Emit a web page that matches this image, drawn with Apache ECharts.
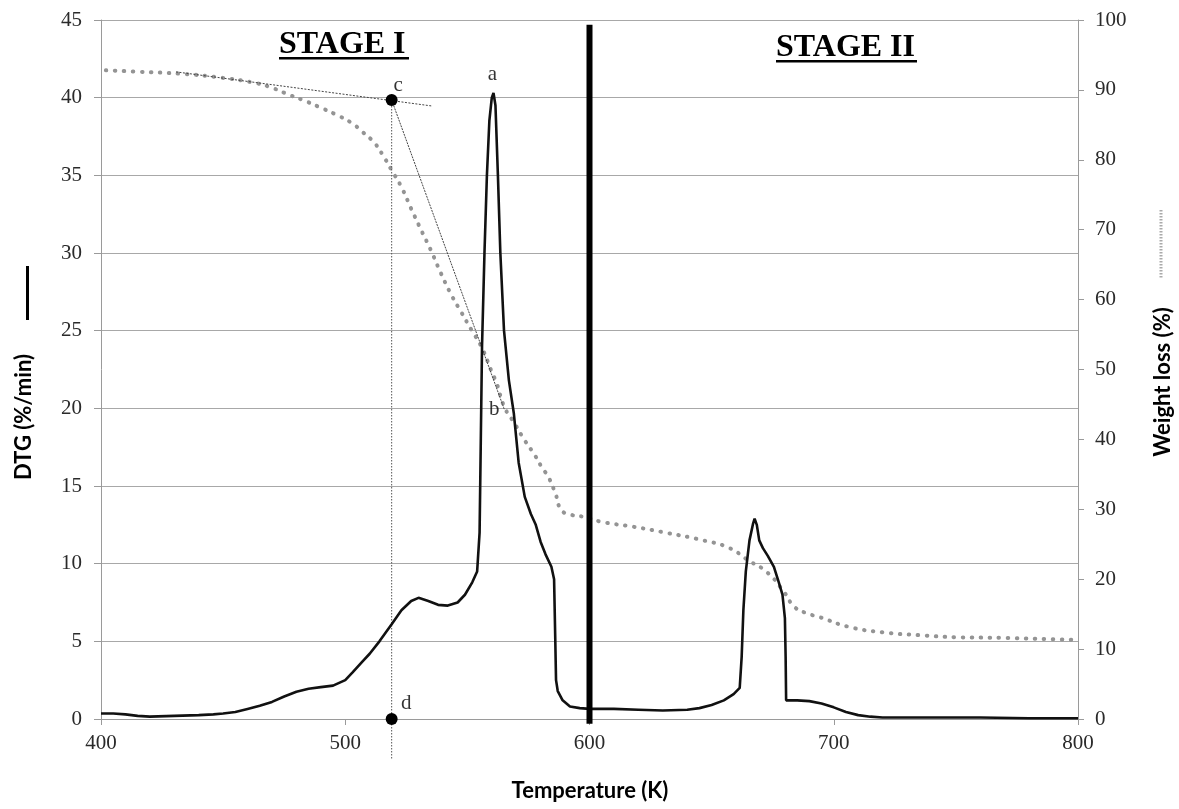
<!DOCTYPE html>
<html>
<head>
<meta charset="utf-8">
<script src="https://cdn.jsdelivr.net/npm/echarts@6/dist/echarts.min.js"></script>
<style>html,body{margin:0;padding:0;background:#fff;}#c{width:1179px;height:809px;}</style>
</head>
<body>
<div id="c"></div>
<script>
// ---- Data ----
const xTicks = [400, 500, 600, 700, 800];
const dtgTicks = [0, 5, 10, 15, 20, 25, 30, 35, 40, 45];
const wlTicks = [0, 10, 20, 30, 40, 50, 60, 70, 80, 90, 100];

// DTG curve (Temperature K, %/min)
const dtgT = [400,405,410,415,420,430,440,446,450,455,460,465,470,475,480,485,490,495,500,503,507,510,514,519,523,527,530,534,538,542,546,549,552,554,555,555.5,556,557,558,559,560,560.7,561.5,562.5,563.5,565,567,569,571,573.5,576,578,580,582,584.4,585.5,586,586.3,587,589,592,596,600,610,620,630,640,645,650,655,659,661.5,662.3,663,664,665.5,667,667.6,668.5,669.5,671,673,675.5,677.5,679,680,680.3,680.5,685,690,695,700,705,710,715,720,740,760,780,800];
const dtgV = [0.35,0.35,0.3,0.2,0.15,0.2,0.25,0.3,0.35,0.45,0.65,0.85,1.1,1.45,1.75,1.95,2.05,2.15,2.5,3.0,3.7,4.2,5.0,6.1,7.0,7.6,7.8,7.6,7.35,7.3,7.5,8.0,8.8,9.5,12,18,24,30,35,38.5,40.0,40.3,39.5,35,30,25,21.8,19.7,16.5,14.3,13.2,12.5,11.4,10.6,9.8,9.0,5.0,2.5,1.8,1.2,0.8,0.7,0.65,0.65,0.6,0.55,0.6,0.7,0.9,1.2,1.6,2.0,4,7,9.5,11.5,12.6,12.9,12.5,11.5,11.0,10.5,9.8,8.8,8.0,6.5,4,1.2,1.2,1.15,1.0,0.75,0.45,0.25,0.15,0.1,0.1,0.1,0.05,0.05];

// Weight loss curve (Temperature K, %)
const wlT = [402,415,433,448,463,470,477,483,489,496,502.5,507,512,515.5,519,523,527,531,535,539,543.4,547.5,551.6,555.7,559.8,562,565.2,569.3,573.4,577.5,580.5,583.2,586,588.5,592.6,598,605,618,632,646,657,665,673,680,684,690,694,706,720,735,750,770,800];
const wlV = [92.8,92.6,92.3,91.8,91.0,90.3,89.3,88.5,87.6,86.5,85.3,84.0,82.4,80.6,78.5,76.1,73.0,70.0,67.1,63.9,60.7,58.2,55.7,53.3,49.8,48,44.6,42.3,39.9,37.8,36,34.6,32.3,29.9,29.2,28.9,28.2,27.5,26.6,25.6,24.5,22.7,20.9,18.0,16.0,15.0,14.6,13.2,12.4,12.0,11.7,11.6,11.3];

// Construction lines (DTG units)
const tangent1 = [[430.7, 41.66], [535.2, 39.47]];
const tangent2 = [[519, 39.85], [565.2, 19.9]];
const verticalCD = [[519, 39.85], [519, -2.6]];
const stageDivider = [[600, -0.3], [600, 44.7]];

// Marker points c, d
const markerPts = [[519, 39.85], [519, 0]];
// Annotation letters
const annoText = ['a', 'b', 'c', 'd'];
const annoT = [560.2, 561, 521.7, 525];
const annoV = [41.5, 19.9, 40.8, 1.0];

const stageLabels = ['STAGE I', 'STAGE II'];
const axisTitles = { x: 'Temperature (K)', yl: 'DTG (%/min)', yr: 'Weight loss (%)' };

// ---- Chart ----
const chart = echarts.init(document.getElementById('c'));
const pair = (xs, ys) => xs.map((x, i) => [x, ys[i]]);
const tickFont = { fontFamily: 'Liberation Serif', fontSize: 21, color: '#2a2a2a' };
const axisGray = '#9a9a9a';

chart.setOption({
  animation: false,
  backgroundColor: '#fff',
  grid: { left: 101, right: 101, top: 20, bottom: 90 },
  xAxis: {
    type: 'value', min: 400, max: 800, interval: 100,
    axisLine: { show: true, lineStyle: { color: axisGray, width: 1 } },
    axisTick: { show: true, length: 6, lineStyle: { color: axisGray } },
    axisLabel: Object.assign({ margin: 14 }, tickFont),
    splitLine: { show: false }
  },
  yAxis: [
    {
      type: 'value', min: 0, max: 45, interval: 5,
      axisLine: { show: true, lineStyle: { color: axisGray, width: 1 } },
      axisTick: { show: true, length: 7, lineStyle: { color: axisGray } },
      axisLabel: Object.assign({ margin: 19 }, tickFont),
      splitLine: { show: true, lineStyle: { color: '#a8a8a8', width: 1.2 } }
    },
    {
      type: 'value', min: 0, max: 100, interval: 10, position: 'right',
      axisLine: { show: true, lineStyle: { color: axisGray, width: 1 } },
      axisTick: { show: true, length: 6, lineStyle: { color: axisGray } },
      axisLabel: Object.assign({ margin: 17 }, tickFont),
      splitLine: { show: false }
    }
  ],
  series: [
    {
      name: 'Weight loss', type: 'line', yAxisIndex: 1, data: pair(wlT, wlV),
      symbol: 'none', smooth: true,
      lineStyle: { color: '#949494', width: 4, type: [0.5, 8.5], cap: 'round' }, z: 2
    },
    {
      name: 'tangent1', type: 'line', data: tangent1, symbol: 'none',
      lineStyle: { color: '#444', width: 1, type: [2, 1.5] }, z: 3
    },
    {
      name: 'tangent2', type: 'line', data: tangent2, symbol: 'none',
      lineStyle: { color: '#444', width: 1, type: [2, 1] }, z: 3
    },
    {
      name: 'vertical', type: 'line', data: verticalCD, symbol: 'none', clip: false,
      lineStyle: { color: '#555', width: 1, type: [1.5, 1.5] }, z: 3
    },
    {
      name: 'DTG', type: 'line', data: pair(dtgT, dtgV), symbol: 'none',
      lineStyle: { color: '#111', width: 2.6 }, z: 4
    },
    {
      name: 'divider', type: 'line', data: stageDivider, symbol: 'none', clip: false,
      lineStyle: { color: '#000', width: 6 }, z: 5
    },
    {
      name: 'markers', type: 'scatter', data: markerPts, symbol: 'circle', symbolSize: 12,
      itemStyle: { color: '#000', opacity: 1 }, clip: false, z: 6
    },
    {
      name: 'letters', type: 'scatter', symbolSize: 0, z: 7,
      data: annoT.map((t, i) => ({ value: [t, annoV[i]], label: { formatter: annoText[i] } })),
      label: { show: true, position: 'inside', fontFamily: 'Liberation Serif', fontSize: 21, color: '#000' }
    }
  ],
  graphic: [
    { type: 'text', left: 279, top: 29, style: { text: stageLabels[0], font: 'bold 32px "Liberation Serif"', fill: '#000' } },
    { type: 'rect', shape: { x: 279, y: 57, width: 130, height: 2.5 }, style: { fill: '#000' } },
    { type: 'text', left: 776, top: 32, style: { text: stageLabels[1], font: 'bold 32px "Liberation Serif"', fill: '#000' } },
    { type: 'rect', shape: { x: 776, y: 60, width: 141, height: 2.5 }, style: { fill: '#000' } },
    { type: 'text', x: 590, y: 791, style: { text: axisTitles.x, font: 'bold 22px Lato', fill: '#000', textAlign: 'center', textVerticalAlign: 'middle' } },
    { type: 'text', x: 24, y: 417, rotation: Math.PI / 2, style: { text: axisTitles.yl, font: 'bold 22px Lato', fill: '#000', textAlign: 'center', textVerticalAlign: 'middle' } },
    { type: 'text', x: 1163, y: 382, rotation: Math.PI / 2, style: { text: axisTitles.yr, font: 'bold 22px Lato', fill: '#000', textAlign: 'center', textVerticalAlign: 'middle' } },
    { type: 'line', shape: { x1: 27.5, y1: 266, x2: 27.5, y2: 320 }, style: { stroke: '#000', lineWidth: 3 } },
    { type: 'line', shape: { x1: 1161, y1: 210, x2: 1161, y2: 278 }, style: { stroke: '#aaa', lineWidth: 3, lineDash: [1.5, 1.5] } }
  ]
});
</script>
</body>
</html>
